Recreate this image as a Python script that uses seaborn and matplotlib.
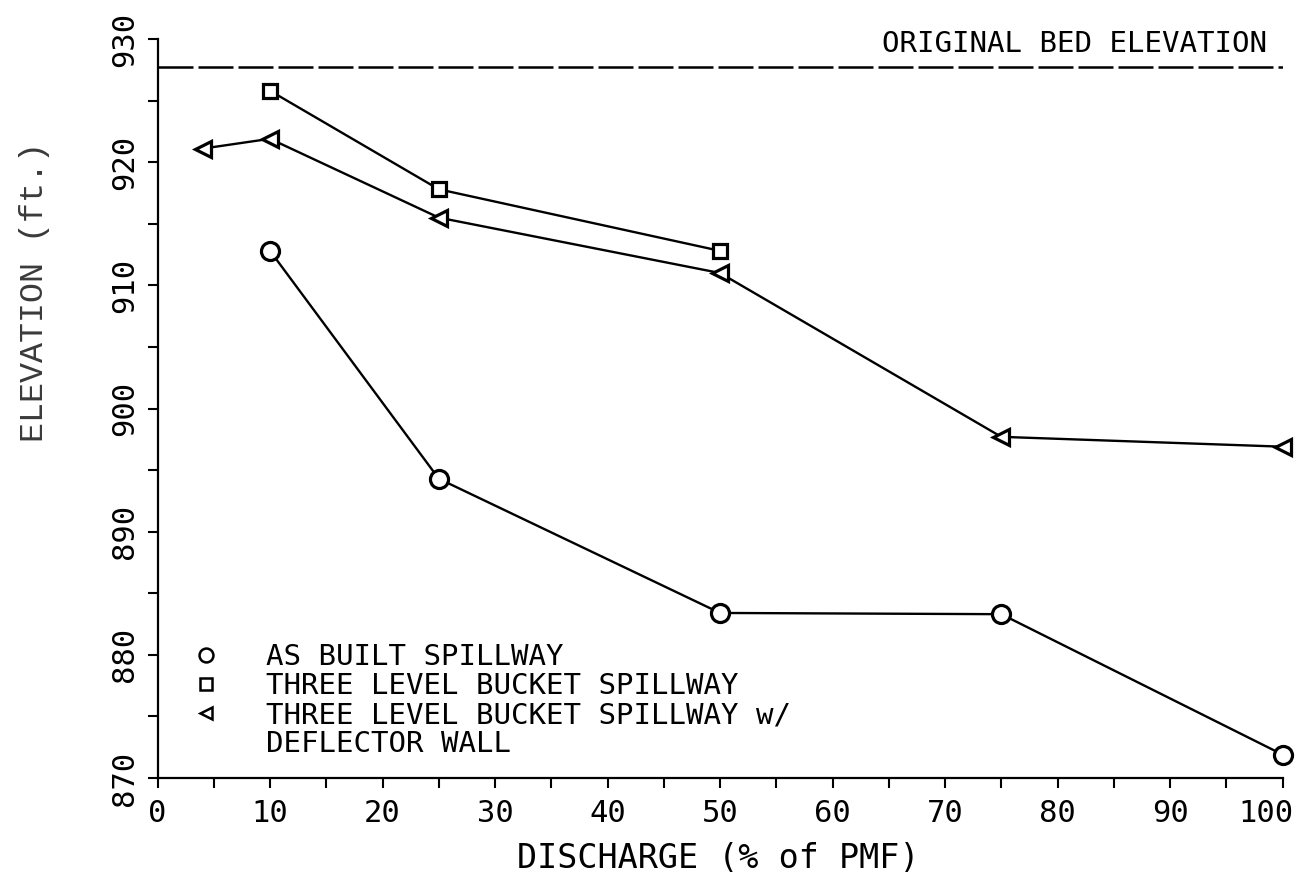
import numpy as np
import pandas as pd
import seaborn as sns
import matplotlib.pyplot as plt
import matplotlib.transforms as mtransforms
from matplotlib.lines import Line2D

# --- Data ---
AS_BUILT_X = [10, 25, 50, 75, 100]
AS_BUILT_Y = [912.8, 894.3, 883.4, 883.3, 871.9]

BUCKET_X = [10, 25, 50]
BUCKET_Y = [925.8, 917.8, 912.8]

DEFLECTOR_X = [4, 10, 25, 50, 75, 100]
DEFLECTOR_Y = [921.1, 921.9, 915.5, 911.0, 897.7, 896.9]

BED_ELEVATION = 927.7

SERIES_LABELS = ['AS BUILT SPILLWAY',
                 'THREE LEVEL BUCKET SPILLWAY',
                 'THREE LEVEL BUCKET SPILLWAY w/']
EXTRA_LABEL = 'DEFLECTOR WALL'

X_TICKS = list(range(0, 101, 10))
Y_TICKS = list(range(870, 931, 10))

# --- Style ---
MAIN_FONT = 'DejaVu Sans Mono'
INK = 'black'

sns.set_style('ticks')
plt.rcParams['font.family'] = [MAIN_FONT]
plt.rcParams['text.color'] = INK

fig = plt.figure(figsize=(13.03, 8.77), dpi=100)
ax = fig.add_axes([0.1209, 0.1129, 0.8634, 0.8426])

marker_kw = dict(color=INK, linewidth=1.7, markerfacecolor='white',
                 markeredgecolor=INK, markeredgewidth=2.3, clip_on=False)

sns.lineplot(x=AS_BUILT_X, y=AS_BUILT_Y, ax=ax, marker='o', markersize=13, **marker_kw)
sns.lineplot(x=BUCKET_X, y=BUCKET_Y, ax=ax, marker='s', markersize=10, **marker_kw)
sns.lineplot(x=DEFLECTOR_X, y=DEFLECTOR_Y, ax=ax, marker='<', markersize=11, **marker_kw)

# original bed elevation reference line
ax.axhline(BED_ELEVATION, color=INK, linewidth=1.8, linestyle=(0, (14, 2)))
ax.text(98.6, BED_ELEVATION + 0.8, 'ORIGINAL BED ELEVATION', ha='right', va='bottom',
        fontsize=21, color=INK)

ax.set_xlim(0, 100)
ax.set_ylim(870, 930)
ax.set_xticks(X_TICKS)
ax.set_xticks(range(5, 100, 10), minor=True)
ax.set_yticks(Y_TICKS)
ax.set_yticks(range(875, 930, 10), minor=True)
ax.tick_params(axis='both', which='both', direction='out', length=7, width=1.5,
               color=INK, labelcolor=INK)
ax.tick_params(axis='x', labelsize=22, pad=8)
ax.tick_params(axis='y', labelsize=22, pad=6, labelrotation=90)
for lab in ax.get_yticklabels():
    lab.set_va('center')

# the plotter put "100" a little left of its tick
last = ax.get_xticklabels()[-1]
last.set_transform(last.get_transform() + mtransforms.ScaledTranslation(-12 / 72, 0, fig.dpi_scale_trans))

sns.despine(ax=ax)
for side in ['left', 'bottom']:
    ax.spines[side].set_linewidth(1.6)
    ax.spines[side].set_color(INK)

fig.text(718 / 1303, 1 - 858 / 877, 'DISCHARGE (% of PMF)', ha='center', va='center',
         fontsize=24, color=INK)
fig.text(35 / 1303, 1 - 292 / 877, 'ELEVATION (ft.)', rotation=90, ha='center', va='center',
         fontsize=24, family='Liberation Mono', color='#3a3a3a')

# legend: markers only, with a continuation line for the last entry
handles = [
    Line2D([], [], linestyle='none', marker='o', markersize=10, markerfacecolor='white',
           markeredgecolor=INK, markeredgewidth=1.8),
    Line2D([], [], linestyle='none', marker='s', markersize=8, markerfacecolor='white',
           markeredgecolor=INK, markeredgewidth=1.8),
    Line2D([], [], linestyle='none', marker='<', markersize=9, markerfacecolor='white',
           markeredgecolor=INK, markeredgewidth=1.8),
    Line2D([], [], linestyle='none'),
]
leg = ax.legend(handles, SERIES_LABELS + [EXTRA_LABEL], loc='upper left',
                bbox_to_anchor=(0.029, 0.183), frameon=False, fontsize=21,
                handlelength=1.1, handletextpad=1.5, labelspacing=0.04, borderpad=0,
                borderaxespad=0)
for t in leg.get_texts():
    t.set_color(INK)

fig.savefig('out.png', dpi=100)
